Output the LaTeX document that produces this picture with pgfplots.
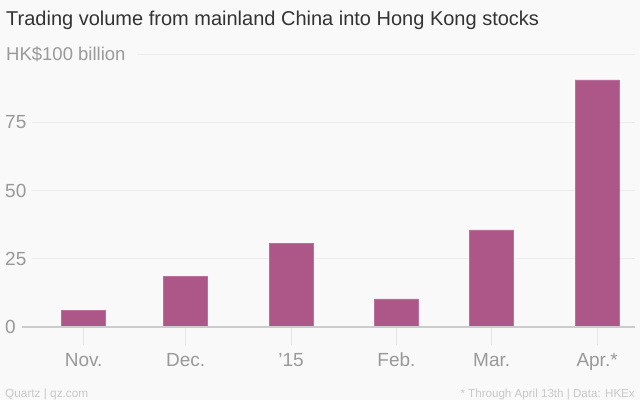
\documentclass[border=0pt]{standalone}
\usepackage{fontspec}
\setmainfont{Liberation Sans}
\usepackage{pgfplots}
\pgfplotsset{compat=1.18}
\definecolor{bgc}{HTML}{F9F9F9}
\definecolor{titlec}{HTML}{333333}
\definecolor{subc}{HTML}{9A9A9A}
\definecolor{tickc}{HTML}{999999}
\definecolor{gridc}{HTML}{ECECEC}
\definecolor{basec}{HTML}{CCCCCC}
\definecolor{tmarkc}{HTML}{E6E6E6}
\definecolor{footc}{HTML}{C8C8C8}
\definecolor{barc}{HTML}{AD5788}
\begin{document}
\begin{tikzpicture}
\fill[bgc] (0pt,0pt) rectangle (640pt,400pt);
\useasboundingbox (0pt,0pt) rectangle (640pt,400pt);
\node[anchor=base west, inner sep=0, text=titlec, font=\fontsize{20}{22}\selectfont] at (6pt,374pt) {Trading volume from mainland China into Hong Kong stocks};
\node[anchor=base west, inner sep=0, text=subc, font=\fontsize{18.5}{20}\selectfont] at (6pt,339.3pt) {HK\$100 billion};
\node[anchor=base west, inner sep=0, text=footc, font=\fontsize{11.8}{13}\selectfont] at (5pt,3pt) {Quartz | qz.com};
\node[anchor=base east, inner sep=0, text=footc, font=\fontsize{11.6}{13}\selectfont] at (635pt,3pt) {* Through April 13th | Data: HKEx};
\begin{axis}[
  at={(31.7pt,73.3pt)}, anchor=south west, scale only axis,
  width=603.3pt, height=272.4pt,
  xmin=-15.29, xmax=162.15, ymin=0, ymax=100,
  axis x line*=bottom, axis y line*=left,
  axis line style={draw=none},
  clip=false,
  /pgf/number format/assume math mode=true,
  ytick={0,25,50,75},
  ymajorgrids,
  grid style={draw=gridc, line width=1pt},
  y tick style={draw=none},
  yticklabel style={anchor=west, inner sep=0pt, xshift=-26.7pt, text=tickc, font=\fontsize{19}{20}\selectfont},
  xtick={0,30,61,92,120,151},
  xticklabels={Nov.,Dec.,’15,Feb.,Mar.,Apr.*},
  xtick align=outside,
  major tick length=18pt,
  x tick style={draw=tmarkc, line width=1pt},
  xticklabel style={anchor=base, inner sep=0pt, yshift=-22pt, text=tickc, font=\fontsize{19}{20}\selectfont},
]
\addplot[ybar, bar width=12.94, fill=barc, draw=barc!85!white, line width=0.6pt] coordinates {
  (0,6.1) (30,18.4) (61,30.6) (92,10.2) (120,35.5) (151,90.6)
};
\draw[gridc, line width=1pt] (axis cs:15.68,100) -- (axis cs:162.15,100);
\draw[basec, line width=2pt] (axis cs:-18.24,0) -- (axis cs:162.15,0);
\end{axis}
\end{tikzpicture}
\end{document}
